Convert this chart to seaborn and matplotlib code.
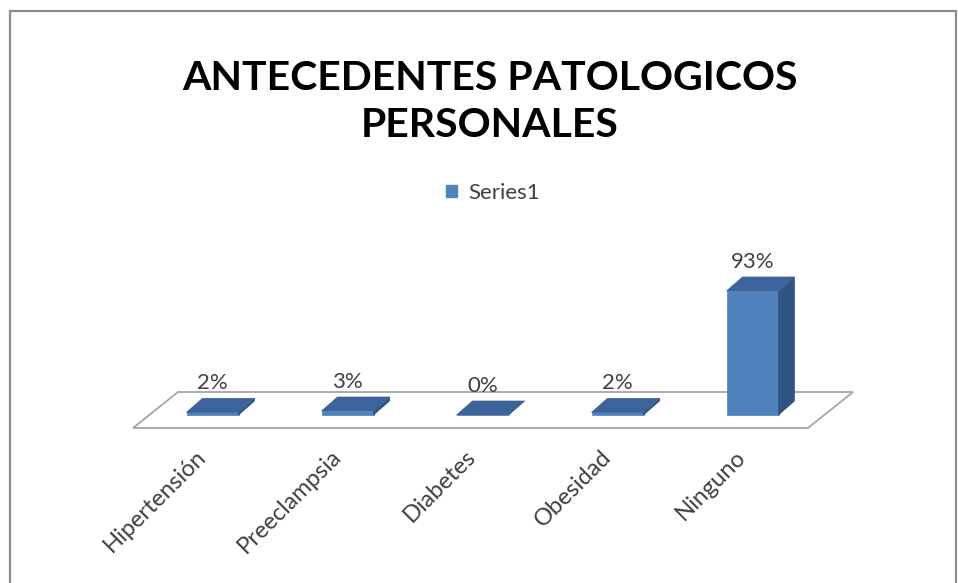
import matplotlib
matplotlib.use("Agg")
import matplotlib.pyplot as plt
from matplotlib.patches import Polygon, Rectangle
import seaborn as sns

# ---- data ----
categories = ["Hipertensión", "Preeclampsia", "Diabetes", "Obesidad", "Ninguno"]
values = [2, 3, 0, 2, 93]
value_labels = ["2%", "3%", "0%", "2%", "93%"]
series_name = "Series1"
title_text = "ANTECEDENTES PATOLOGICOS\nPERSONALES"

# ---- style ----
W, H = 958, 583
FRONT = "#4F81BD"
SIDE = "#2F5483"
TOP = "#3C649A"
TEXT = "#404040"
BODY_FONT = ["Lato", "DejaVu Sans"]
TITLE_FONT = ["Lato", "DejaVu Sans"]

sns.set_theme(style="white")
plt.rcParams["font.family"] = BODY_FONT

fig = plt.figure(figsize=(W / 100, H / 100), dpi=100)
fig.patch.set_facecolor("white")

# axes placement (pixel box -> figure fraction)
ax_left, ax_right, ax_top, ax_bottom = 133, 808, 250, 445
ax = fig.add_axes([ax_left / W, (H - ax_bottom) / H, (ax_right - ax_left) / W, (ax_bottom - ax_top) / H])
ax.set_facecolor("none")

n = len(categories)
xpx = (ax_right - ax_left) / n           # pixels per category
baseline_px = 415                         # pixel row of value 0
ypx = (415 - 291) / 93.0                  # pixels per value unit
ylo = -(ax_bottom - baseline_px) / ypx
yhi = (baseline_px - ax_top) / ypx

def px_x(p):
    return p / xpx

def px_y(p):
    return p / ypx

bar_shift = px_x(12)
depth_x, depth_y = px_x(16), px_y(14)
floor_front, floor_back = -px_y(13), px_y(23)
floor_skew = px_x(45)

sns.barplot(x=categories, y=values, color=FRONT, saturation=1, width=52 / xpx,
            ax=ax, zorder=3, edgecolor=FRONT, linewidth=0.5)
ax.set_xlim(-0.5, n - 0.5)
ax.set_ylim(ylo, yhi)

# floor
ax.add_patch(Polygon([(-0.5, floor_front), (n - 0.5, floor_front),
                      (n - 0.5 + floor_skew, floor_back), (-0.5 + floor_skew, floor_back)],
                     closed=True, facecolor="white", edgecolor="#A6A6A6", lw=1.3,
                     zorder=1, clip_on=False))

# 3D faces
for p, lab in zip(ax.patches, value_labels):
    p.set_x(p.get_x() + bar_shift)
    x0, w, h = p.get_x(), p.get_width(), p.get_height()
    ax.add_patch(Polygon([(x0 + w, 0), (x0 + w + depth_x, depth_y),
                          (x0 + w + depth_x, h + depth_y), (x0 + w, h)],
                         closed=True, facecolor=SIDE, edgecolor=SIDE, lw=0.5, zorder=3))
    ax.add_patch(Polygon([(x0, h), (x0 + w, h), (x0 + w + depth_x, h + depth_y),
                          (x0 + depth_x, h + depth_y)],
                         closed=True, facecolor=TOP, edgecolor=TOP, lw=0.5, zorder=4))
    ax.text(x0 + w / 2, h + px_y(29), lab, ha="center", va="center",
            fontsize=16, color=TEXT, zorder=5)

ax.set_xticks([i + bar_shift - px_x(10) for i in range(n)])
ax.set_xticklabels(categories, rotation=45, ha="right", va="center",
                   rotation_mode="anchor", fontsize=17, color=TEXT)
ax.tick_params(axis="x", length=0, pad=6)
ax.set_yticks([])
ax.set_xlabel("")
ax.set_ylabel("")
for s in ax.spines.values():
    s.set_visible(False)

# title
fig.text(490 / W, 1 - 102 / H, title_text, ha="center", va="center",
         fontsize=29.5, fontweight="bold", color="black", family=TITLE_FONT,
         linespacing=1.35)

# legend
leg = fig.legend(handles=[Rectangle((0, 0), 1, 1, facecolor=FRONT, edgecolor=FRONT)],
                 labels=[series_name], loc="center", bbox_to_anchor=(493 / W, 1 - 193 / H),
                 frameon=False, fontsize=16, handlelength=0.5, handleheight=0.5,
                 handletextpad=0.5)
for t in leg.get_texts():
    t.set_color(TEXT)

# outer chart border
fig.add_artist(Rectangle((10 / W, -0.05), (956 - 10) / W, 1.05 - 11 / H,
                         transform=fig.transFigure, fill=False,
                         edgecolor="#8C8C8C", lw=1.6))

fig.savefig("out.png", dpi=100)
